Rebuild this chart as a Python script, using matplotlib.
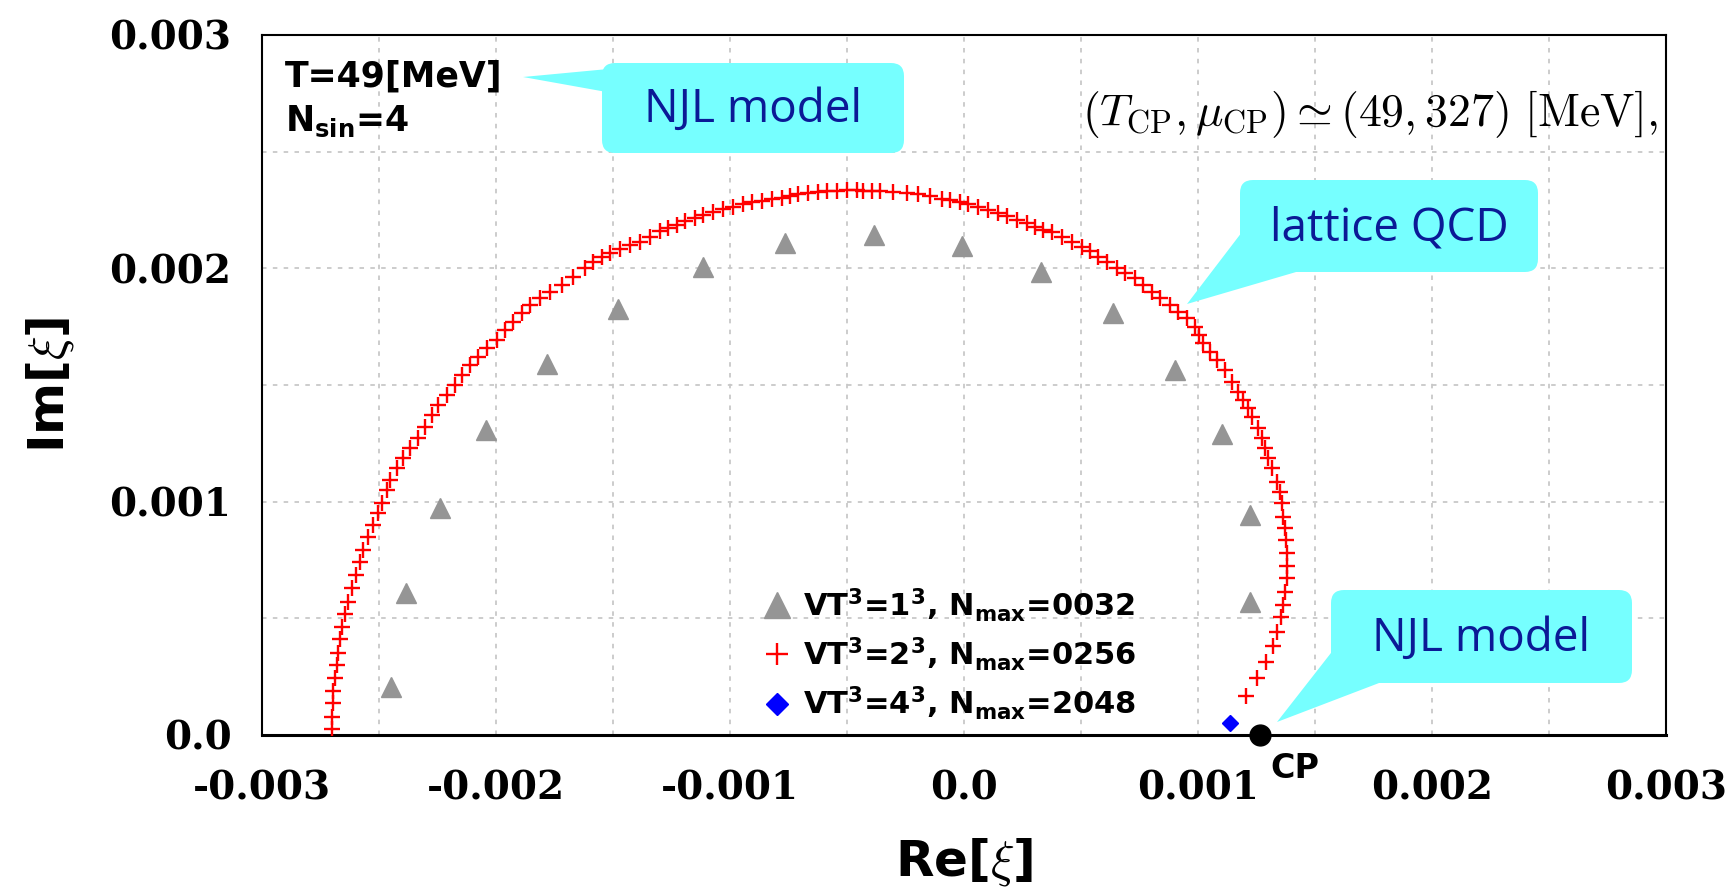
import numpy as np
import matplotlib
matplotlib.use("Agg")
import matplotlib.pyplot as plt
from matplotlib.patches import FancyBboxPatch, Polygon
from matplotlib.ticker import MultipleLocator, FixedFormatter, FixedLocator

plt.rcParams['mathtext.fontset'] = 'custom'
plt.rcParams['mathtext.rm'] = 'DejaVu Sans:bold'
plt.rcParams['mathtext.it'] = 'DejaVu Sans:bold:italic'
plt.rcParams['mathtext.bf'] = 'DejaVu Sans:bold'

# data (units of 1e-3)
# VT^3 = 1^3, Nmax = 32
re1 = [-2.447, -2.386, -2.239, -2.041, -1.781, -1.479, -1.115, -0.765,
       -0.383, -0.009, 0.331, 0.638, 0.902, 1.101, 1.224, 1.224]
im1 = [0.204, 0.607, 0.972, 1.308, 1.592, 1.825, 2.005, 2.109,
       2.142, 2.095, 1.986, 1.810, 1.564, 1.289, 0.943, 0.569]

# VT^3 = 2^3, Nmax = 256
re2 = [-2.702, -2.702, -2.698, -2.695, -2.688, -2.681, -2.674, -2.667, -2.657, -2.645,
       -2.631, -2.617, -2.598, -2.581, -2.567, -2.546, -2.524, -2.503, -2.488, -2.467,
       -2.453, -2.424, -2.396, -2.368, -2.332, -2.303, -2.275, -2.247, -2.211, -2.175,
       -2.147, -2.111, -2.076, -2.040, -1.997, -1.962, -1.926, -1.890, -1.855, -1.812,
       -1.769, -1.719, -1.670, -1.620, -1.584, -1.548, -1.513, -1.470, -1.427, -1.385,
       -1.342, -1.299, -1.264, -1.228, -1.192, -1.150, -1.114, -1.071, -1.029, -0.986,
       -0.943, -0.907, -0.865, -0.822, -0.779, -0.744, -0.708, -0.665, -0.623, -0.587,
       -0.544, -0.501, -0.459, -0.430, -0.394, -0.359, -0.302, -0.245, -0.195, -0.145,
       -0.095, -0.060, -0.017, 0.018, 0.061, 0.104, 0.147, 0.182, 0.225, 0.268,
       0.303, 0.339, 0.375, 0.418, 0.460, 0.503, 0.538, 0.574, 0.610, 0.653,
       0.688, 0.731, 0.766, 0.802, 0.838, 0.880, 0.916, 0.952, 0.987, 1.004,
       1.023, 1.051, 1.080, 1.115, 1.144, 1.172, 1.194, 1.215, 1.229, 1.258,
       1.272, 1.286, 1.300, 1.315, 1.336, 1.350, 1.358, 1.365, 1.372, 1.376,
       1.379, 1.379, 1.379, 1.372, 1.365, 1.355, 1.338, 1.322, 1.289, 1.253, 1.204]
im2 = [0.024, 0.078, 0.136, 0.190, 0.243, 0.300, 0.353, 0.410, 0.464, 0.517,
       0.571, 0.629, 0.686, 0.743, 0.793, 0.847, 0.900, 0.950, 0.996, 1.050,
       1.093, 1.143, 1.186, 1.229, 1.272, 1.321, 1.371, 1.414, 1.457, 1.500,
       1.543, 1.586, 1.621, 1.657, 1.693, 1.736, 1.771, 1.807, 1.843, 1.872,
       1.900, 1.929, 1.964, 2.000, 2.026, 2.050, 2.067, 2.083, 2.100, 2.114,
       2.136, 2.160, 2.174, 2.186, 2.203, 2.217, 2.229, 2.243, 2.253, 2.263,
       2.274, 2.283, 2.289, 2.297, 2.303, 2.310, 2.317, 2.322, 2.326, 2.331,
       2.331, 2.334, 2.334, 2.333, 2.331, 2.331, 2.328, 2.322, 2.317, 2.311,
       2.297, 2.293, 2.283, 2.274, 2.264, 2.250, 2.236, 2.226, 2.207, 2.193,
       2.178, 2.164, 2.157, 2.136, 2.114, 2.093, 2.074, 2.050, 2.026, 2.000,
       1.979, 1.957, 1.929, 1.900, 1.872, 1.843, 1.814, 1.786, 1.750, 1.714,
       1.679, 1.643, 1.607, 1.564, 1.514, 1.471, 1.436, 1.400, 1.364, 1.314,
       1.272, 1.229, 1.186, 1.143, 1.086, 1.043, 0.993, 0.936, 0.886, 0.836,
       0.779, 0.724, 0.672, 0.614, 0.557, 0.507, 0.443, 0.381, 0.314, 0.243, 0.167]

# VT^3 = 4^3, Nmax = 2048
re4 = [1.137]
im4 = [0.050]

# critical point
cp_re = 1.265
cp_im = 0.0

labels = [r'VT$^{3}$=1$^{3}$, N$_{\rm max}$=0032',
          r'VT$^{3}$=2$^{3}$, N$_{\rm max}$=0256',
          r'VT$^{3}$=4$^{3}$, N$_{\rm max}$=2048']
xticks = [-0.003, -0.002, -0.001, 0.0, 0.001, 0.002, 0.003]
xticklabels = ['-0.003', '-0.002', '-0.001', '0.0', '0.001', '0.002', '0.003']
yticks = [0.0, 0.001, 0.002, 0.003]
yticklabels = ['0.0', '0.001', '0.002', '0.003']

sc = 1e-3
W, H = 1733, 891
fig = plt.figure(figsize=(W / 100, H / 100), dpi=100)
ax = fig.add_axes([262 / W, (H - 735) / H, (1666 - 262) / W, (735 - 35) / H])

ax.plot(np.array(re1) * sc, np.array(im1) * sc, ls='none', marker='^', ms=14,
        color='#959595', label=labels[0], zorder=3)
ax.plot(np.array(re2) * sc, np.array(im2) * sc, ls='none', marker='+', ms=12,
        mew=1.7, color='#ff0000', label=labels[1], zorder=4)
ax.plot(np.array(re4) * sc, np.array(im4) * sc, ls='none', marker='D', ms=8,
        color='#0000ff', label=labels[2], zorder=4)
ax.plot([cp_re * sc], [cp_im * sc], ls='none', marker='o', ms=15, color='black',
        clip_on=False, zorder=6)
ax.annotate('CP', xy=(cp_re * sc, cp_im * sc), xytext=(25, -24),
            textcoords='offset points', ha='center', va='center',
            fontsize=24, fontweight='bold', annotation_clip=False)

ax.set_xlim(-0.003, 0.003)
ax.set_ylim(0.0, 0.003)
ax.xaxis.set_major_locator(FixedLocator(xticks))
ax.xaxis.set_major_formatter(FixedFormatter(xticklabels))
ax.yaxis.set_major_locator(FixedLocator(yticks))
ax.yaxis.set_major_formatter(FixedFormatter(yticklabels))
ax.xaxis.set_minor_locator(MultipleLocator(0.0005))
ax.yaxis.set_minor_locator(MultipleLocator(0.0005))
ax.grid(True, which='both', color='#c8c8c8', ls=(0, (2.5, 3.5)), lw=1.3)
ax.set_axisbelow(True)
ax.tick_params(which='both', length=0)
ax.tick_params(axis='x', pad=25)
ax.tick_params(axis='y', pad=22)
for lab in ax.get_xticklabels() + ax.get_yticklabels():
    lab.set_fontfamily('DejaVu Serif')
    lab.set_fontweight('bold')
    lab.set_fontsize(28)
for s in ax.spines.values():
    s.set_linewidth(1.5)
ax.spines['bottom'].set_linewidth(2.2)

ax.set_xlabel(r'Re[$\xi$]', fontsize=36, fontweight='bold', va='center',
              math_fontfamily='cm')
ax.xaxis.set_label_coords(0.5, -0.181)
ax.set_ylabel(r'Im[$\xi$]', fontsize=36, fontweight='bold', va='center',
              math_fontfamily='cm')
ax.yaxis.set_label_coords(-0.151, 0.5)

leg = ax.legend(loc='center left', bbox_to_anchor=(0.345, 0.1157), frameon=False,
                prop={'weight': 'bold', 'size': 22}, numpoints=1, borderpad=0,
                handlelength=1.0, handletextpad=0.35, labelspacing=0.38,
                markerscale=1.35)

# upper-left text
ax.text((285 - 262) / 1404, (735 - 77) / 700, 'T=49[MeV]',
        transform=ax.transAxes, fontsize=25, fontweight='bold', va='center')
ax.text((285 - 262) / 1404, (735 - 121) / 700, r'N$_{\rm sin}$=4',
        transform=ax.transAxes, fontsize=25, fontweight='bold', va='center')
ax.text((1658 - 262) / 1404, (735 - 114) / 700,
        r'$(T_{\mathrm{CP}}, \mu_{\mathrm{CP}}) \simeq (49, 327)\ [\mathrm{MeV}],$',
        transform=ax.transAxes, fontsize=33, ha='right', va='center',
        math_fontfamily='cm')

# callouts, positions in pixels from top-left
cyan = '#76ffff'
navy = '#0b1a96'
tr = fig.dpi_scale_trans


def pt(x, y):
    return (x / 100, (H - y) / 100)


def callout(box, tri, text):
    x0, y0, x1, y1 = box
    fig.add_artist(FancyBboxPatch(pt(x0, y1), (x1 - x0) / 100, (y1 - y0) / 100,
                                  boxstyle='round,pad=0,rounding_size=0.13',
                                  transform=tr, fc=cyan, ec='none', zorder=5))
    fig.add_artist(Polygon([pt(*p) for p in tri], closed=True, transform=tr,
                           fc=cyan, ec='none', zorder=5))
    fig.text(*pt((x0 + x1) / 2, (y0 + y1) / 2 + 2), text, transform=tr,
             ha='center', va='center', fontsize=33, color=navy,
             family='Open Sans', zorder=6)


callout((602, 63, 904, 153), [(523, 77), (640, 66), (640, 98)], 'NJL model')
callout((1240, 180, 1538, 272), [(1187, 304), (1255, 215), (1320, 265)], 'lattice QCD')
callout((1331, 590, 1632, 683), [(1277, 722), (1345, 635), (1400, 675)], 'NJL model')

fig.savefig('out.png', dpi=100)
